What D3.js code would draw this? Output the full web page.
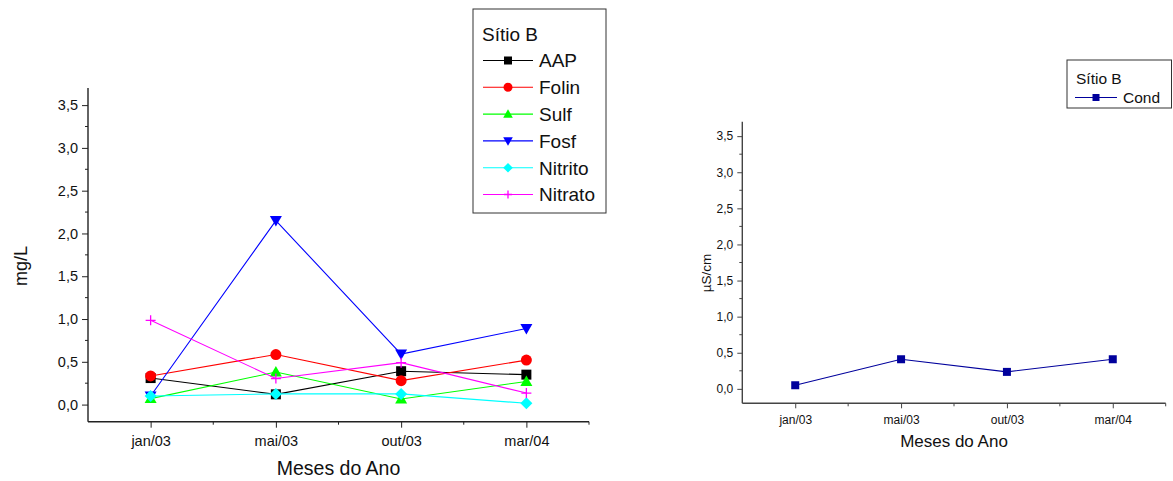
<!DOCTYPE html>
<html>
<head>
<meta charset="utf-8">
<script src="https://cdn.jsdelivr.net/npm/d3@7"></script>
<style>
  body { margin: 0; background: #fff; }
  svg { display: block; font-family: Arial, "Liberation Sans", sans-serif; }
</style>
</head>
<body>
<div id="container"></div>
<script>
// data
const months = ["jan/03", "mai/03", "out/03", "mar/04"];
const yTicks = [0, 0.5, 1, 1.5, 2, 2.5, 3, 3.5];

const aap     = [0.31, 0.12, 0.39, 0.35];
const folin   = [0.335, 0.585, 0.28, 0.52];
const sulf    = [0.07, 0.38, 0.066, 0.27];
const fosf    = [0.10, 2.15, 0.59, 0.89];
const nitrito = [0.10, 0.125, 0.125, 0.015];
const nitrato = [0.985, 0.305, 0.49, 0.135];

const cond = [0.05, 0.41, 0.235, 0.41];

const leftSeries = [
  { name: "AAP", values: aap, color: "#000000", symbol: "square" },
  { name: "Folin", values: folin, color: "#ff0000", symbol: "circle" },
  { name: "Sulf", values: sulf, color: "#00ff00", symbol: "triangle" },
  { name: "Fosf", values: fosf, color: "#0000ff", symbol: "down" },
  { name: "Nitrito", values: nitrito, color: "#00ffff", symbol: "diamond" },
  { name: "Nitrato", values: nitrato, color: "#ff00ff", symbol: "plus" }
];
const rightSeries = [
  { name: "Cond", values: cond, color: "#00009c", symbol: "square" }
];

const svg = d3.select("#container").append("svg")
  .attr("width", 1173).attr("height", 481);

function fmt(v) { return d3.format(".1f")(v).replace(".", ","); }

// draw one marker centred on 0,0
function marker(g, symbol, color, size) {
  const s = size;
  if (symbol == "square") {
    g.append("rect").attr("x", -s / 2).attr("y", -s / 2).attr("width", s).attr("height", s).attr("fill", color);
  } else if (symbol == "circle") {
    g.append("circle").attr("r", s / 2 + 0.5).attr("fill", color);
  } else if (symbol == "triangle") {
    g.append("path").attr("d", `M0,${-s * 0.6}L${s * 0.6},${s * 0.45}L${-s * 0.6},${s * 0.45}Z`).attr("fill", color);
  } else if (symbol == "down") {
    g.append("path").attr("d", `M0,${s * 0.6}L${s * 0.6},${-s * 0.45}L${-s * 0.6},${-s * 0.45}Z`).attr("fill", color);
  } else if (symbol == "diamond") {
    g.append("path").attr("d", `M0,${-s * 0.6}L${s * 0.6},0L0,${s * 0.6}L${-s * 0.6},0Z`).attr("fill", color);
  } else if (symbol == "plus") {
    g.append("path").attr("d", `M${-s / 2},0H${s / 2}M0,${-s / 2}V${s / 2}`).attr("stroke", color).attr("stroke-width", 1.3);
  }
}

function drawChart(opt) {
  const x = d3.scaleLinear().domain([0.5, months.length + 0.5]).range([opt.x0, opt.x1]);
  const y = d3.scaleLinear().domain([-0.2, 3.7]).range([opt.y1, opt.y0]);
  const g = svg.append("g");

  // y axis
  const yAxis = d3.axisLeft(y).tickValues(yTicks).tickFormat(fmt).tickSize(opt.major).tickPadding(4);
  const ya = g.append("g").attr("transform", `translate(${opt.x0},0)`).call(yAxis);
  ya.append("g").selectAll("line").data(d3.range(0.25, 3.7, 0.5)).enter().append("line")
    .attr("x1", -opt.minor).attr("x2", 0).attr("y1", d => y(d)).attr("y2", d => y(d))
    .attr("stroke", opt.axisColor);

  // x axis
  const xAxis = d3.axisBottom(x).tickValues(d3.range(1, months.length + 1))
    .tickFormat((d, i) => months[i]).tickSize(opt.major).tickPadding(opt.xPad);
  const xa = g.append("g").attr("transform", `translate(0,${opt.y1})`).call(xAxis);
  xa.append("g").selectAll("line").data(d3.range(1.5, months.length + 1, 1)).enter().append("line")
    .attr("x1", d => x(d)).attr("x2", d => x(d)).attr("y1", 0).attr("y2", opt.minor)
    .attr("stroke", opt.axisColor);

  [ya, xa].forEach(a => {
    a.select(".domain").attr("stroke", opt.axisColor).attr("stroke-width", 1.4);
    a.selectAll(".tick line").attr("stroke", opt.axisColor);
    a.selectAll("text").attr("fill", "#111").style("font-size", opt.tickFont + "px");
  });
  ya.select(".domain").attr("d", `M0,${opt.y0}V${opt.y1}`);
  xa.select(".domain").attr("d", `M${opt.x0},0H${opt.x1}`);

  // titles
  g.append("text").attr("x", (opt.x0 + opt.x1) / 2).attr("y", opt.xTitleY)
    .attr("text-anchor", "middle").style("font-size", opt.titleFont + "px").attr("fill", "#111")
    .text("Meses do Ano");
  g.append("text").attr("transform", `translate(${opt.yTitleX},${opt.yTitleY}) rotate(-90)`)
    .attr("text-anchor", "middle").style("font-size", opt.yTitleFont + "px").attr("fill", "#111")
    .text(opt.yTitle);

  // series
  const line = d3.line().x((d, i) => x(i + 1)).y(d => y(d));
  opt.series.forEach(s => {
    g.append("path").datum(s.values).attr("d", line)
      .attr("fill", "none").attr("stroke", s.color).attr("stroke-width", 1.1);
    s.values.forEach((v, i) => {
      const m = g.append("g").attr("transform", `translate(${x(i + 1)},${y(v)})`);
      marker(m, s.symbol, s.color, opt.markerSize);
    });
  });

  // legend
  const L = opt.legend;
  const lg = svg.append("g");
  lg.append("rect").attr("x", L.x).attr("y", L.y).attr("width", L.w).attr("height", L.h)
    .attr("fill", "white").attr("stroke", "#333").attr("stroke-width", 1);
  lg.append("text").attr("x", L.x + 9).attr("y", L.titleY).style("font-size", L.font + "px")
    .attr("fill", "#111").text("Sítio B");
  opt.series.forEach((s, i) => {
    const yy = L.firstY + i * L.step;
    lg.append("line").attr("x1", L.lineX0).attr("x2", L.lineX1).attr("y1", yy).attr("y2", yy)
      .attr("stroke", s.color).attr("stroke-width", 1.1);
    const m = lg.append("g").attr("transform", `translate(${(L.lineX0 + L.lineX1) / 2},${yy})`);
    marker(m, s.symbol, s.color, L.markerSize);
    lg.append("text").attr("x", L.textX).attr("y", yy).attr("dy", "0.36em")
      .style("font-size", L.font + "px").attr("fill", "#111").text(s.name);
  });
}

drawChart({
  x0: 88, x1: 589, y0: 88, y1: 421.7,
  major: 6, minor: 3, xPad: 8, axisColor: "#222",
  tickFont: 14.5, titleFont: 19.5, yTitleFont: 18,
  xTitleY: 475, yTitleX: 27, yTitleY: 266, yTitle: "mg/L",
  markerSize: 10, series: leftSeries,
  legend: { x: 473, y: 9, w: 133, h: 204, titleY: 41, firstY: 60.5, step: 26.8,
            lineX0: 483, lineX1: 533, textX: 539, font: 19, markerSize: 8 }
});

drawChart({
  x0: 742.3, x1: 1165.7, y0: 121.7, y1: 403.3,
  major: 5, minor: 3, xPad: 7, axisColor: "#444",
  tickFont: 12, titleFont: 17, yTitleFont: 13.5,
  xTitleY: 447, yTitleX: 711, yTitleY: 273, yTitle: "µS/cm",
  markerSize: 8, series: rightSeries,
  legend: { x: 1067, y: 60, w: 104.5, h: 48, titleY: 84, firstY: 97.5, step: 20,
            lineX0: 1075, lineX1: 1117, textX: 1123, font: 15.5, markerSize: 7 }
});
</script>
</body>
</html>
